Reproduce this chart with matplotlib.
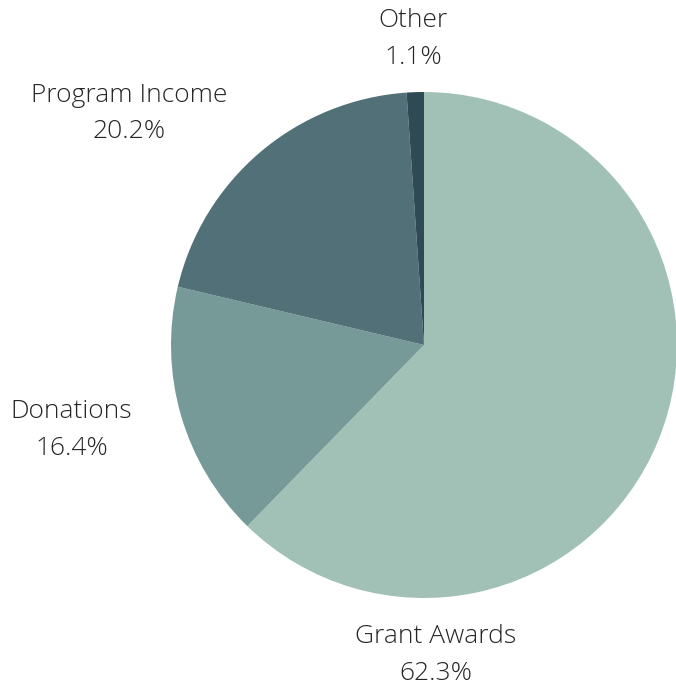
import numpy as np
import matplotlib.pyplot as plt

labels = ['Grant Awards', 'Donations', 'Program Income', 'Other']
values = [62.3, 16.4, 20.2, 1.1]
colors = ['#a2c1b6', '#759a97', '#527078', '#2f4a55']

plt.rcParams['font.family'] = ['Open Sans', 'DejaVu Sans']

fig = plt.figure(figsize=(6.76, 6.87), dpi=100)
ax = fig.add_axes([171/676, 89/687, 506/676, 506/687])
wedges, _ = ax.pie(values, colors=colors, startangle=90, counterclock=False,
                   radius=1.0, wedgeprops=dict(linewidth=0))
ax.set_xlim(-1, 1)
ax.set_ylim(-1, 1)
ax.set_aspect('equal')
ax.axis('off')

for w, lab, v in zip(wedges, labels, values):
    ang = np.deg2rad((w.theta1 + w.theta2) / 2)
    r = 1.21
    ha = 'center'
    if lab == 'Grant Awards':
        # no room on the right, label sits below the pie
        ang = np.deg2rad(-87.8)
        r = 1.226
    elif np.cos(ang) < -0.3:
        ha = 'right'
        r = 1.2
    x, y = r * np.cos(ang), r * np.sin(ang)
    ax.text(x, y, '%s\n%.1f%%' % (lab, v), ha=ha, va='center',
            multialignment='center',
            fontsize=19, fontweight='light', color='#262626',
            linespacing=1.62, clip_on=False)

fig.savefig('out.png', dpi=100)
